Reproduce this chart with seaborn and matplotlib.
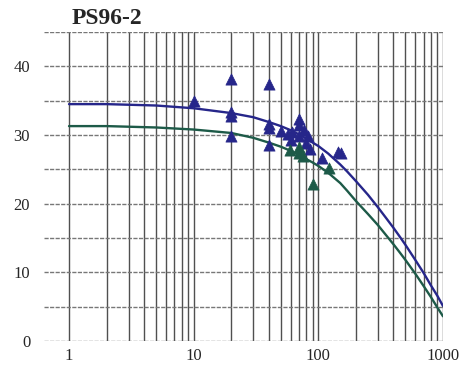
import matplotlib
matplotlib.use("Agg")
import matplotlib.pyplot as plt
import matplotlib.ticker as mticker
import seaborn as sns
import pandas as pd
import numpy as np

# curve values
curve_x = [1, 2, 5, 10, 20, 30, 40, 50, 60, 70, 80, 90, 100, 120, 150, 170, 200, 250, 300, 350,
           400, 450, 500, 600, 700, 800, 900, 1000]
blue_y = [34.5, 34.5, 34.3, 33.9, 33.2, 32.6, 31.9, 31.3, 30.7, 30.1, 29.5, 28.9, 28.4, 27.3, 25.7, 24.7,
          23.3, 21.3, 19.5, 17.9, 16.5, 15.2, 14.0, 11.8, 9.9, 8.1, 6.6, 5.1]
green_y = [31.3, 31.3, 31.1, 30.8, 30.3, 29.6, 28.9, 28.3, 27.7, 27.1, 26.5, 26.0, 25.5, 24.5, 23.0, 21.9,
           20.4, 18.5, 16.9, 15.4, 14.1, 12.9, 11.8, 9.8, 8.0, 6.4, 4.9, 3.6]

# measured points (triangles)
blue_px = [10, 20, 20, 20, 20, 40, 40, 40, 40, 50, 57, 62, 60, 70, 70, 70, 77, 82, 80, 85, 108, 143, 152]
blue_py = [35.0, 38.1, 33.3, 32.7, 29.8, 37.4, 31.6, 31.0, 28.5, 30.6, 30.2, 30.5, 29.3, 32.4, 31.4, 29.8,
           30.7, 29.8, 28.8, 28.0, 26.6, 27.6, 27.4]
green_px = [59, 70, 70, 75, 121, 90]
green_py = [27.8, 28.3, 27.4, 27.0, 25.2, 22.8]

x_ticks = [1, 10, 100, 1000]
y_ticks = [0, 10, 20, 30, 40]

navy = "#26268a"
teal = "#1d5a48"

sns.set_style("white")
plt.rcParams["font.family"] = ["Liberation Serif", "DejaVu Serif"]

fig = plt.figure(figsize=(4.6, 3.77), dpi=100)
ax = fig.add_axes([0.0957, 0.0955, 0.8673, 0.8195])

# grid: vertical lines at every 1..9 x 10^k, horizontal every 5
vlines = [m * 10 ** k for k in range(3) for m in range(1, 10)] + [1000]
for v in vlines:
    ax.axvline(v, color="#505050", lw=1.0, zorder=1)
for h in np.arange(0, 46, 5):
    ax.axhline(h, color="#777777", lw=1.0, ls=(0, (3, 1)), zorder=1)

curves = pd.DataFrame({"x": curve_x * 2, "y": blue_y + green_y,
                       "fit": ["a"] * len(curve_x) + ["b"] * len(curve_x)})
sns.lineplot(data=curves, x="x", y="y", hue="fit", palette=[navy, teal],
             lw=1.7, legend=False, ax=ax, zorder=3)

sns.scatterplot(x=blue_px, y=blue_py, marker="^", s=65, color=navy,
                edgecolor=navy, linewidth=0.5, ax=ax, zorder=4)
sns.scatterplot(x=green_px, y=green_py, marker="^", s=65, color=teal,
                edgecolor=teal, linewidth=0.5, ax=ax, zorder=4)

ax.set_xscale("log")
ax.set_xlim(0.63, 1000)
ax.set_ylim(0, 45)
ax.xaxis.set_major_locator(mticker.FixedLocator(x_ticks))
ax.xaxis.set_minor_locator(mticker.NullLocator())
ax.xaxis.set_major_formatter(mticker.FixedFormatter([str(t) for t in x_ticks]))
ax.set_yticks(y_ticks)
ax.tick_params(axis="y", length=0, labelsize=12, pad=10)
ax.tick_params(axis="x", length=0, labelsize=12, pad=5)
ax.set_xlabel("")
ax.set_ylabel("")
for s in ax.spines.values():
    s.set_visible(False)

fig.text(0.155, 0.952, "PS96-2", fontsize=17, fontweight="bold", va="center", ha="left")

fig.savefig("out.png", dpi=100)
